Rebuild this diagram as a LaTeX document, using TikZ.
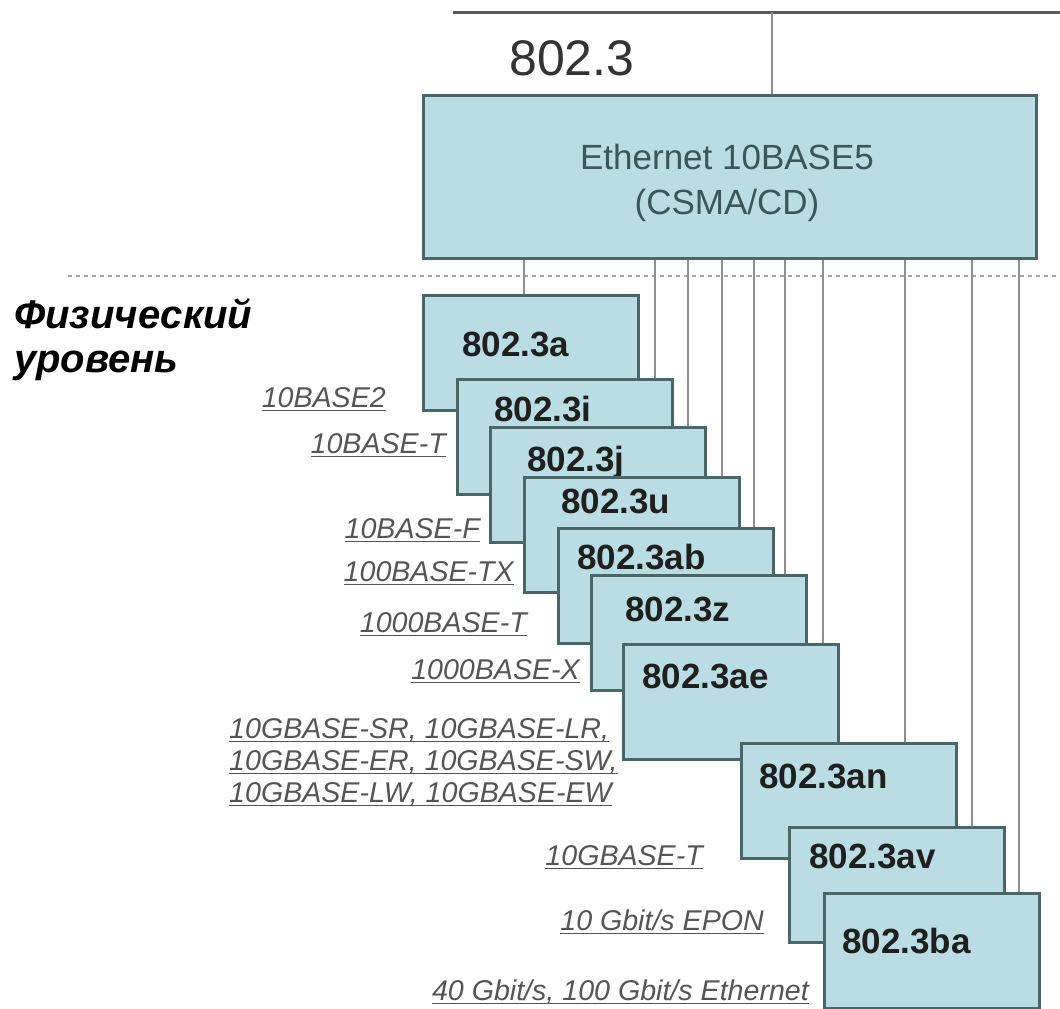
\documentclass[tikz,border=0pt]{standalone}
\usepackage{fontspec}
\setmainfont{Liberation Sans}
\usetikzlibrary{calc,backgrounds}
\definecolor{boxfill}{HTML}{B9DDE2}
\definecolor{boxline}{HTML}{4A6767}
\definecolor{vlinecol}{HTML}{8F8F8F}
\definecolor{labelgray}{HTML}{555555}
\definecolor{ethtext}{HTML}{3A5658}
\newcommand\myul[1]{\setbox0\hbox{#1}\rlap{\rule[-4pt]{\wd0}{1.3pt}}\box0}
\begin{document}
\begin{tikzpicture}[x=1pt,y=-1pt,
  stdbox/.style={draw=boxline, line width=2.5pt, fill=boxfill, anchor=north west,
    minimum width=215pt, minimum height=115pt, inner sep=0pt},
  boxtext/.style={anchor=west, inner sep=0pt, text height=25pt, text depth=0pt,
    font=\bfseries\fontsize{35}{38}\selectfont, text=black!88},
  lbl/.style={anchor=base east, inner sep=0pt, font=\itshape\fontsize{28.6}{32}\selectfont, text=labelgray},
  lblw/.style={lbl, anchor=base west},
  phys/.style={anchor=base west, inner sep=0pt, font=\bfseries\itshape\fontsize{40}{44}\selectfont},
  conn/.style={draw=vlinecol, line width=1.4pt}]
\useasboundingbox (0,0) rectangle (1060,1009);

% top part
\node[draw=boxline, line width=2.5pt, fill=boxfill, anchor=north west,
  minimum width=613pt, minimum height=163pt, inner sep=0pt] (eth) at (422,94) {};
\node[align=center, inner sep=0pt, font=\fontsize{35}{45}\selectfont, text=ethtext] (ethtxt) at (727,183)
  {Ethernet 10BASE5\\(CSMA/CD)};
\node[anchor=west, inner sep=0pt, text height=36pt, text depth=0pt,
  font=\fontsize{50}{55}\selectfont, text=black!80] (std) at (509,57) {802.3};

% left title
\node[phys] (phys1) at (14,328) {Физический};
\node[phys] (phys2) at (14,372) {уровень};

% boxes (drawn in order, later ones on top)
\node[stdbox] (ba1) at (422,294) {};
\node[boxtext] (ta1) at ($(ba1.north west)+(40,50)$) {802.3a};
\node[stdbox] (ba2) at (456,378) {};
\node[boxtext] (ta2) at ($(ba2.north west)+(38,31)$) {802.3i};
\node[stdbox] (ba3) at (489,426) {};
\node[boxtext] (ta3) at ($(ba3.north west)+(38,33)$) {802.3j};
\node[stdbox] (ba4) at (523,476) {};
\node[boxtext] (ta4) at ($(ba4.north west)+(38,25)$) {802.3u};
\node[stdbox] (ba5) at (557,527) {};
\node[boxtext] (ta5) at ($(ba5.north west)+(20,30)$) {802.3ab};
\node[stdbox] (ba6) at (590,574) {};
\node[boxtext] (ta6) at ($(ba6.north west)+(35,35)$) {802.3z};
\node[stdbox] (ba7) at (622,643) {};
\node[boxtext] (ta7) at ($(ba7.north west)+(20,33)$) {802.3ae};
\node[stdbox] (ba8) at (740,742) {};
\node[boxtext] (ta8) at ($(ba8.north west)+(19,34)$) {802.3an};
\node[stdbox] (ba9) at (788,826) {};
\node[boxtext] (ta9) at ($(ba9.north west)+(21,30)$) {802.3av};
\node[stdbox] (ba10) at (823,892) {};
\node[boxtext] (ta10) at ($(ba10.north west)+(19,49)$) {802.3ba};

% labels
\node[lbl] (l1) at (386,407) {\myul{10BASE2}};
\node[lbl] (l2) at (446,453) {\myul{10BASE-T}};
\node[lbl] (l3) at (480,538) {\myul{10BASE-F}};
\node[lbl] (l4) at (514,581) {\myul{100BASE-TX}};
\node[lbl] (l5) at (527,632) {\myul{1000BASE-T}};
\node[lbl] (l6) at (580,679) {\myul{1000BASE-X}};
\node[lblw] (l7a) at (229,738) {\myul{10GBASE-SR, 10GBASE-LR,}};
\node[lblw] (l7b) at (229,770) {\myul{10GBASE-ER, 10GBASE-SW,}};
\node[lblw] (l7c) at (229,802) {\myul{10GBASE-LW, 10GBASE-EW}};
\node[lbl] (l8) at (703,865) {\myul{10GBASE-T}};
\node[lbl] (l9) at (764,930) {\myul{10 Gbit/s EPON}};
\node[lbl] (l10) at (809,1000) {\myul{40 Gbit/s, 100 Gbit/s Ethernet}};

% lines behind
\begin{scope}[on background layer]
  \coordinate (topl) at (453,12);
  \coordinate (topr) at (1060,12);
  \draw[line width=3pt, draw=black!65] (topl) -- (topr);
  \coordinate (topjoin) at (772,12);
  \draw[conn] (topjoin) -- (topjoin |- eth.north);
  \coordinate (dashl) at (68,276);
  \coordinate (dashr) at (1060,276);
  \draw[draw=black!35, line width=1.3pt, dash pattern=on 4pt off 4pt] (dashl) -- (dashr);
  \foreach \b/\dx in {ba1/102, ba2/199, ba3/199, ba4/199, ba5/197, ba6/195, ba7/201, ba8/165, ba9/184, ba10/196}{
    \path ($(\b.north west)+(\dx,0)$) coordinate (c\b);
    \draw[conn] (c\b |- eth.south) -- (c\b);
  }
\end{scope}
\end{tikzpicture}
\end{document}
